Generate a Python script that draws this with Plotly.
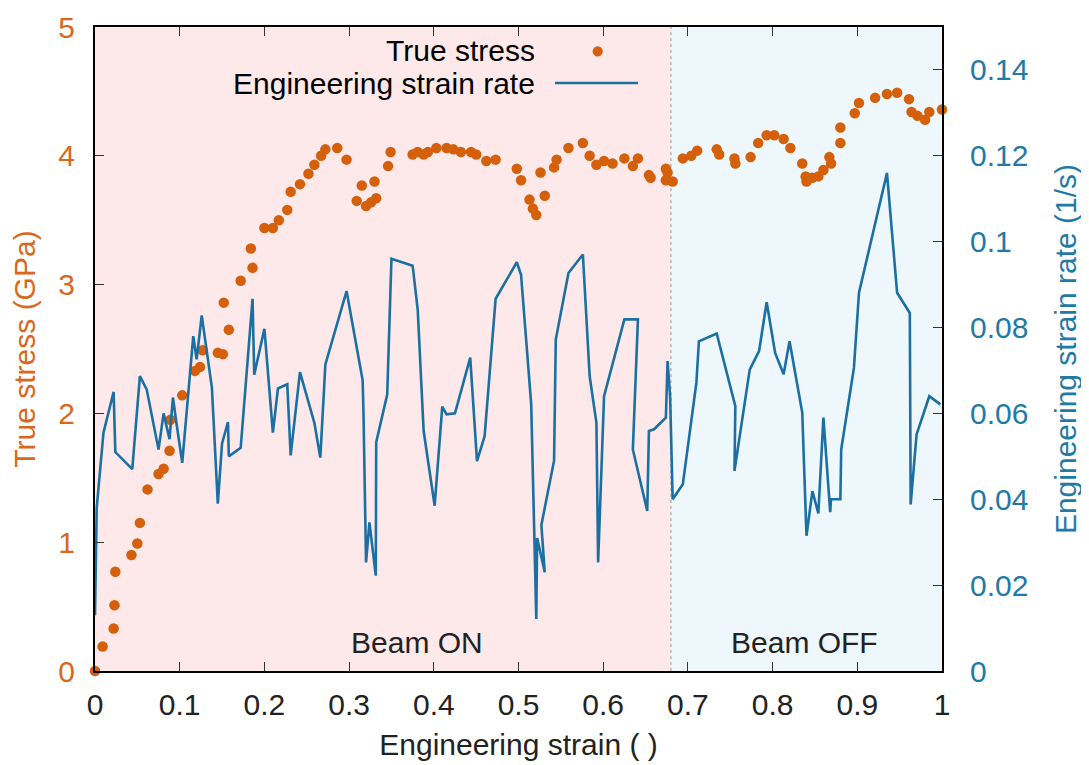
import plotly.graph_objects as go

# ---- data ----
strain_stress = [0, 0.009, 0.022, 0.023, 0.024, 0.043, 0.050, 0.053, 0.062, 0.075,
                 0.081, 0.088, 0.089, 0.103, 0.118, 0.124, 0.127, 0.145, 0.151, 0.152,
                 0.158, 0.172, 0.184, 0.186, 0.200, 0.210, 0.217, 0.227, 0.231, 0.242,
                 0.252, 0.259, 0.267, 0.272, 0.286, 0.297, 0.309, 0.315, 0.320, 0.326,
                 0.330, 0.332, 0.346, 0.349, 0.375, 0.381, 0.388, 0.393, 0.403, 0.415,
                 0.423, 0.432, 0.444, 0.450, 0.462, 0.473, 0.498, 0.503, 0.513, 0.517,
                 0.521, 0.526, 0.531, 0.542, 0.545, 0.559, 0.576, 0.584, 0.592, 0.601,
                 0.611, 0.625, 0.635, 0.641, 0.654, 0.656, 0.674, 0.674, 0.676, 0.682,
                 0.694, 0.704, 0.711, 0.734, 0.737, 0.755, 0.756, 0.774, 0.783, 0.793,
                 0.802, 0.813, 0.821, 0.835, 0.839, 0.840, 0.847, 0.854, 0.860, 0.867,
                 0.869, 0.880, 0.880, 0.897, 0.902, 0.921, 0.935, 0.947, 0.961, 0.964,
                 0.971, 0.980, 0.985, 1.0]
true_stress = [0.0, 0.19, 0.33, 0.51, 0.77, 0.90, 0.99, 1.15, 1.41, 1.53,
               1.57, 1.71, 1.95, 2.14, 2.33, 2.36, 2.49, 2.47, 2.46, 2.86,
               2.65, 3.03, 3.28, 3.13, 3.44, 3.44, 3.50, 3.58, 3.72, 3.78,
               3.86, 3.93, 4.00, 4.05, 4.06, 3.97, 3.65, 3.77, 3.61, 3.64,
               3.80, 3.67, 3.92, 4.03, 4.01, 4.03, 4.01, 4.03, 4.06, 4.06,
               4.05, 4.03, 4.03, 4.01, 3.96, 3.97, 3.90, 3.81, 3.66, 3.59,
               3.54, 3.87, 3.69, 3.91, 3.97, 4.06, 4.10, 4.00, 3.93, 3.96,
               3.94, 3.98, 3.92, 3.98, 3.85, 3.83, 3.90, 3.81, 3.87, 3.80,
               3.98, 4.00, 4.04, 4.05, 4.01, 3.98, 3.94, 3.99, 4.10, 4.16,
               4.16, 4.13, 4.06, 3.94, 3.84, 3.80, 3.83, 3.84, 3.89, 3.99,
               3.94, 4.10, 4.22, 4.33, 4.41, 4.45, 4.48, 4.49, 4.44, 4.34,
               4.31, 4.28, 4.34, 4.36]

strain_rate_x = [0.0, 0.002, 0.010, 0.022, 0.024, 0.044, 0.053, 0.061, 0.075, 0.081,
                 0.088, 0.092, 0.096, 0.103, 0.116, 0.120, 0.126, 0.138, 0.145, 0.150,
                 0.157, 0.158, 0.172, 0.186, 0.188, 0.200, 0.210, 0.216, 0.227, 0.231,
                 0.242, 0.253, 0.259, 0.266, 0.272, 0.297, 0.316, 0.317, 0.320, 0.324,
                 0.3315, 0.332, 0.345, 0.350, 0.375, 0.381, 0.388, 0.401, 0.410, 0.415,
                 0.425, 0.443, 0.451, 0.460, 0.473, 0.498, 0.503, 0.515, 0.521, 0.522,
                 0.531, 0.527, 0.542, 0.544, 0.559, 0.576, 0.584, 0.592, 0.594, 0.601,
                 0.625, 0.641, 0.635, 0.652, 0.654, 0.660, 0.674, 0.676, 0.679, 0.682,
                 0.694, 0.710, 0.713, 0.734, 0.756, 0.755, 0.773, 0.784, 0.793, 0.803,
                 0.813, 0.820, 0.835, 0.840, 0.847, 0.854, 0.860, 0.868, 0.869, 0.880,
                 0.881, 0.896, 0.902, 0.935, 0.947, 0.962, 0.963, 0.970, 0.985, 0.998]
strain_rate = [0.013, 0.038, 0.0555, 0.065, 0.051, 0.047, 0.0687, 0.0656, 0.0516, 0.060,
               0.054, 0.0637, 0.058, 0.0485, 0.078, 0.0726, 0.0828, 0.066, 0.039, 0.053,
               0.058, 0.050, 0.052, 0.0867, 0.069, 0.0797, 0.0555, 0.0658, 0.0668, 0.0502,
               0.0696, 0.0617, 0.0578, 0.0497, 0.0714, 0.0885, 0.0677, 0.060, 0.0253, 0.0346,
               0.0222, 0.0533, 0.0644, 0.096, 0.0944, 0.0842, 0.0559, 0.0385, 0.0616, 0.0598,
               0.060, 0.073, 0.0489, 0.0547, 0.0867, 0.0952, 0.0923, 0.0621, 0.0121, 0.031,
               0.023, 0.034, 0.049, 0.0772, 0.0927, 0.097, 0.0687, 0.0578, 0.0253, 0.064,
               0.0819, 0.0819, 0.0516, 0.0373, 0.0559, 0.0563, 0.059, 0.0722, 0.064, 0.040,
               0.0435, 0.0671, 0.0768, 0.0786, 0.0617, 0.0466, 0.0702, 0.0745, 0.0859, 0.0741,
               0.0691, 0.0768, 0.0602, 0.0315, 0.0419, 0.0367, 0.059, 0.037, 0.040, 0.040,
               0.0516, 0.0706, 0.0881, 0.116, 0.0881, 0.0834, 0.0388, 0.0551, 0.064, 0.0621]

x_ticks = [0, 0.1, 0.2, 0.3, 0.4, 0.5, 0.6, 0.7, 0.8, 0.9, 1]
x_ticktext = ["0", "0.1", "0.2", "0.3", "0.4", "0.5", "0.6", "0.7", "0.8", "0.9", "1"]
y_ticks = [0, 1, 2, 3, 4, 5]
y2_ticks = [0, 0.02, 0.04, 0.06, 0.08, 0.10, 0.12, 0.14]
y2_ticktext = ["0", "0.02", "0.04", "0.06", "0.08", "0.1", "0.12", "0.14"]
beam_switch = 0.68

ORANGE = "#d4600c"
ORANGE_TXT = "#d9681c"
BLUE = "#1b6fa3"
BLUE_TXT = "#1f7aa6"
FONT = "Liberation Sans, Arial, sans-serif"
FS = 30

fig = go.Figure()
fig.add_trace(go.Scatter(x=strain_rate_x, y=strain_rate, mode="lines", yaxis="y2",
                         line=dict(color=BLUE, width=2.6), name="Engineering strain rate",
                         showlegend=False))
fig.add_trace(go.Scatter(x=strain_stress, y=true_stress, mode="markers",
                         marker=dict(color=ORANGE, size=10.5), name="True stress",
                         cliponaxis=False, showlegend=False))

shapes = [
    dict(type="rect", xref="x", yref="paper", x0=0, x1=beam_switch, y0=0, y1=1,
         fillcolor="#fde9e9", line=dict(width=0), layer="below"),
    dict(type="rect", xref="x", yref="paper", x0=beam_switch, x1=1, y0=0, y1=1,
         fillcolor="#eef7fb", line=dict(width=0), layer="below"),
    dict(type="line", xref="x", yref="paper", x0=beam_switch, x1=beam_switch, y0=0, y1=1,
         line=dict(color="#9a9a9a", width=1, dash="dot"), layer="below"),
    # legend keys
    dict(type="circle", xref="paper", yref="paper", x0=0.5935 - 0.006, x1=0.5935 + 0.006,
         y0=0.962 - 0.008, y1=0.962 + 0.008, fillcolor=ORANGE, line=dict(width=0)),
    dict(type="line", xref="paper", yref="paper", x0=0.543, x1=0.641, y0=0.913, y1=0.913,
         line=dict(color=BLUE, width=2.6)),
]

annotations = [
    dict(text="True stress", xref="paper", yref="paper", x=0.522, y=0.964,
         xanchor="right", yanchor="middle", showarrow=False,
         font=dict(family=FONT, size=FS, color="black")),
    dict(text="Engineering strain rate", xref="paper", yref="paper", x=0.522, y=0.913,
         xanchor="right", yanchor="middle", showarrow=False,
         font=dict(family=FONT, size=FS, color="black")),
    dict(text="Beam ON", xref="x", yref="paper", x=0.38, y=0.044,
         xanchor="center", yanchor="middle", showarrow=False,
         font=dict(family=FONT, size=FS, color="#222222")),
    dict(text="Beam OFF", xref="x", yref="paper", x=0.838, y=0.044,
         xanchor="center", yanchor="middle", showarrow=False,
         font=dict(family=FONT, size=FS, color="#222222")),
]

# The page body adds an 8 px offset, so the figure is 8 px smaller than the window.
fig.update_layout(
    width=1081, height=757,
    margin=dict(l=87, r=147, t=19, b=94, autoexpand=False),
    paper_bgcolor="white", plot_bgcolor="white",
    font=dict(family=FONT, size=FS, color="black"),
    shapes=shapes, annotations=annotations,
    xaxis=dict(range=[0, 1], tickvals=x_ticks, ticktext=x_ticktext,
               ticks="inside", ticklen=9, tickwidth=1, tickcolor="#333333",
               showline=True, linecolor="black", linewidth=2, mirror="ticks",
               showgrid=False, zeroline=False, automargin=False,
               ticklabelstandoff=6,
               title=dict(text="Engineering strain ( )", standoff=14,
                          font=dict(family=FONT, size=FS, color="#222222")),
               tickfont=dict(family=FONT, size=FS, color="#222222")),
    yaxis=dict(range=[0, 5], tickvals=y_ticks,
               ticks="inside", ticklen=9, tickwidth=1, tickcolor="#333333",
               showline=True, linecolor="black", linewidth=2, mirror=True,
               showgrid=False, zeroline=False, automargin=False,
               ticklabelstandoff=12,
               title=dict(text="True stress (GPa)", standoff=15,
                          font=dict(family=FONT, size=FS, color=ORANGE_TXT)),
               tickfont=dict(family=FONT, size=FS, color=ORANGE_TXT)),
    yaxis2=dict(range=[0, 0.15], tickvals=y2_ticks, ticktext=y2_ticktext,
                overlaying="y", side="right",
                ticks="inside", ticklen=9, tickwidth=1, tickcolor="#333333",
                showline=True, linecolor="black", linewidth=2,
                showgrid=False, zeroline=False, automargin=False,
                ticklabelstandoff=20,
                title=dict(text="Engineering strain rate (1/s)", standoff=28,
                           font=dict(family=FONT, size=FS, color=BLUE_TXT)),
                tickfont=dict(family=FONT, size=FS, color=BLUE_TXT)),
)

fig.write_html("out.html")
